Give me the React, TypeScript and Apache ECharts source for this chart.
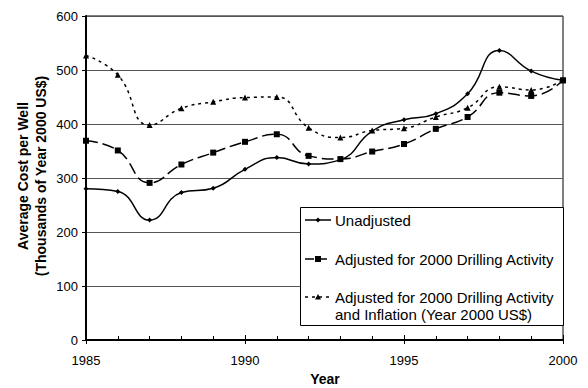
import React, { useEffect, useRef } from "react";
import * as echarts from "echarts";

const years = [1985, 1986, 1987, 1988, 1989, 1990, 1991, 1992, 1993, 1994, 1995, 1996, 1997, 1998, 1999, 2000];
const unadjusted = [280, 275, 222, 273, 281, 316, 338, 326, 334, 387, 408, 419, 456, 536, 498, 481];
const adjustedDrilling = [369, 351, 291, 325, 347, 367, 381, 341, 335, 349, 363, 391, 413, 458, 452, 481];
const adjustedInflation = [527, 491, 398, 429, 441, 449, 450, 393, 375, 388, 392, 413, 430, 469, 463, 481];
const seriesNames = [
  "Unadjusted",
  "Adjusted for 2000 Drilling Activity",
  "Adjusted for 2000 Drilling Activity",
];
const legendSecondLine = "and Inflation (Year 2000 US$)";
const xTitle = "Year";
const yTitle1 = "Average Cost per Well";
const yTitle2 = "(Thousands of Year 2000 US$)";

const FONT = "'Liberation Sans', Arial, sans-serif";

export default function App() {
  const ref = useRef<HTMLDivElement>(null);
  useEffect(() => {
    if (!ref.current) return;
    const chart = echarts.init(ref.current, undefined, { renderer: "svg" });
    const pairs = (vals: number[]) => years.map((y, i) => [y, vals[i]]);
    const lineW = 1.5;
    const legendLeft = 300;
    const lx1 = 305, lx2 = 331, lmid = 318, ltx = 335;
    const legendY = [220, 259, 297];
    chart.setOption({
      animation: false,
      textStyle: { fontFamily: FONT },
      grid: {
        left: 86,
        right: 25,
        top: 16,
        bottom: 48,
        show: true,
        borderColor: "#000",
        borderWidth: 1,
        backgroundColor: "transparent",
      },
      xAxis: [
        {
          type: "value",
          min: 1985,
          max: 2000,
          interval: 5,
          position: "bottom",
          axisLine: { show: true, onZero: false, lineStyle: { color: "#000", width: 2 } },
          axisTick: { show: true, inside: true, length: 5, lineStyle: { color: "#000", width: 1 } },
          minorTick: { show: true, splitNumber: 5, length: 4, lineStyle: { color: "#000", width: 1 } },
          axisLabel: {
            color: "#000",
            fontSize: 13,
            margin: 14,
            fontFamily: FONT,
            formatter: (v: number) => String(v),
          },
          splitLine: { show: false },
        },
        {
          type: "value",
          min: 1985,
          max: 2000,
          interval: 5,
          position: "bottom",
          axisLine: { show: false },
          axisTick: { show: true, inside: false, length: 4, lineStyle: { color: "#000", width: 1 } },
          axisLabel: { show: false },
          splitLine: { show: false },
        },
      ],
      yAxis: {
        type: "value",
        min: 0,
        max: 600,
        interval: 100,
        axisLine: { show: true, onZero: false, lineStyle: { color: "#000", width: 2 } },
        axisTick: { show: true, inside: false, length: 4, lineStyle: { color: "#000", width: 1 } },
        axisLabel: { color: "#000", fontSize: 13, margin: 8, fontFamily: FONT },
        splitLine: { show: true, lineStyle: { color: "#555", width: 1 } },
      },
      series: [
        {
          name: seriesNames[0],
          type: "line",
          data: pairs(unadjusted),
          smooth: 0.5,
          symbol: "diamond",
          symbolSize: 5,
          itemStyle: { color: "#000" },
          lineStyle: { color: "#000", width: lineW, type: "solid" },
          z: 5,
        },
        {
          name: seriesNames[1],
          type: "line",
          data: pairs(adjustedDrilling),
          smooth: 0.5,
          symbol: "rect",
          symbolSize: 6,
          itemStyle: { color: "#000" },
          lineStyle: { color: "#000", width: lineW, type: [12, 5] },
          z: 4,
        },
        {
          name: seriesNames[2],
          type: "line",
          data: pairs(adjustedInflation),
          smooth: 0.5,
          symbol: "triangle",
          symbolSize: 6,
          itemStyle: { color: "#000" },
          lineStyle: { color: "#000", width: lineW, type: [3, 4] },
          z: 3,
        },
      ],
      graphic: [
        {
          type: "text",
          x: 325,
          y: 379,
          style: {
            text: xTitle,
            fontSize: 14,
            fontWeight: "bold",
            fontFamily: FONT,
            fill: "#000",
            align: "center",
            verticalAlign: "middle",
          },
        },
        {
          type: "text",
          x: 23,
          y: 176,
          rotation: Math.PI / 2,
          style: {
            text: yTitle1,
            fontSize: 14,
            fontWeight: "bold",
            fontFamily: FONT,
            fill: "#000",
            align: "center",
            verticalAlign: "middle",
          },
        },
        {
          type: "text",
          x: 41,
          y: 176,
          rotation: Math.PI / 2,
          style: {
            text: yTitle2,
            fontSize: 14,
            fontWeight: "bold",
            fontFamily: FONT,
            fill: "#000",
            align: "center",
            verticalAlign: "middle",
          },
        },
        {
          type: "rect",
          z: 10,
          shape: { x: legendLeft + 0.5, y: 207.5, width: 263, height: 118 },
          style: { fill: "#fff", stroke: "#000", lineWidth: 1 },
        },
        {
          type: "line",
          z: 11,
          shape: { x1: lx1, y1: legendY[0], x2: lx2, y2: legendY[0] },
          style: { stroke: "#000", lineWidth: lineW },
        },
        {
          type: "polygon",
          z: 11,
          shape: { points: [[lmid, legendY[0] - 2.5], [lmid + 2.5, legendY[0]], [lmid, legendY[0] + 2.5], [lmid - 2.5, legendY[0]]] },
          style: { fill: "#000" },
        },
        {
          type: "line",
          z: 11,
          shape: { x1: lx1, y1: legendY[1], x2: lx2, y2: legendY[1] },
          style: { stroke: "#000", lineWidth: lineW, lineDash: [9, 4] },
        },
        {
          type: "rect",
          z: 11,
          shape: { x: lmid - 3, y: legendY[1] - 3, width: 6, height: 6 },
          style: { fill: "#000" },
        },
        {
          type: "line",
          z: 11,
          shape: { x1: lx1, y1: legendY[2], x2: lx2, y2: legendY[2] },
          style: { stroke: "#000", lineWidth: lineW, lineDash: [3, 4] },
        },
        {
          type: "polygon",
          z: 11,
          shape: { points: [[lmid, legendY[2] - 3], [lmid + 3, legendY[2] + 2.5], [lmid - 3, legendY[2] + 2.5]] },
          style: { fill: "#000" },
        },
        {
          type: "text",
          z: 11,
          x: ltx,
          y: legendY[0],
          style: { text: seriesNames[0], fontSize: 15, fontFamily: FONT, fill: "#000", verticalAlign: "middle" },
        },
        {
          type: "text",
          z: 11,
          x: ltx,
          y: legendY[1],
          style: { text: seriesNames[1], fontSize: 15, fontFamily: FONT, fill: "#000", verticalAlign: "middle" },
        },
        {
          type: "text",
          z: 11,
          x: ltx,
          y: legendY[2],
          style: { text: seriesNames[2], fontSize: 15, fontFamily: FONT, fill: "#000", verticalAlign: "middle" },
        },
        {
          type: "text",
          z: 11,
          x: ltx,
          y: legendY[2] + 17,
          style: { text: legendSecondLine, fontSize: 15, fontFamily: FONT, fill: "#000", verticalAlign: "middle" },
        },
      ],
    });
    return () => chart.dispose();
  }, []);
  return (
    <div
      ref={ref}
      style={{ position: "fixed", left: 0, top: 0, width: 588, height: 388, background: "#fff" }}
    />
  );
}
